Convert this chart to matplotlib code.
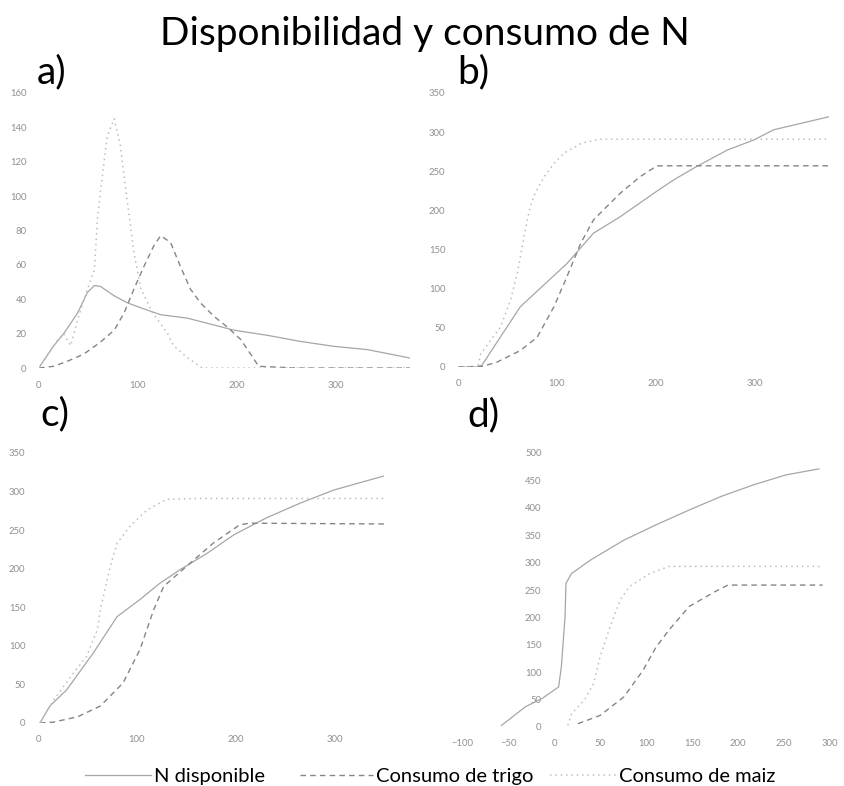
import matplotlib
matplotlib.use("Agg")
from matplotlib import pyplot as plt
from matplotlib.lines import Line2D

plt.rcParams['font.family'] = ['Lato', 'DejaVu Sans']

# ---- data ----
# a) daily rates
a_ndisp_x = [0, 2, 15, 25, 39, 49, 56, 62, 76, 89, 103, 123, 150, 177, 197, 231, 264, 298, 332, 375]
a_ndisp_y = [0, 2, 13, 20, 32, 44, 48, 47.5, 42, 38, 35, 31, 29, 25, 22, 19, 15.5, 12.6, 10.7, 5.8]
a_trigo_x = [0, 15, 29, 45, 62, 76, 86, 96, 106, 116, 123, 133, 143, 153, 163, 177, 190, 204, 214, 222, 260, 300, 375]
a_trigo_y = [0, 1, 4, 8, 15, 22, 32, 46, 59, 71, 77, 73, 59, 46, 38, 30, 24, 16.5, 8, 1, 0, 0, 0]
a_maiz_x = [0, 8, 19, 25, 32, 39, 49, 56, 59, 62, 69, 76, 82, 89, 96, 103, 115, 130, 136, 150, 165, 200, 375]
a_maiz_y = [0, 7, 16.5, 20, 13, 28, 46, 57, 86, 102, 135, 145, 130, 98, 67, 46, 32, 20, 13, 6, 0, 0, 0]

# b) cumulative
b_ndisp_x = [0, 20, 24, 63, 110, 137, 164, 198, 218, 241, 272, 299, 319, 376]
b_ndisp_y = [0, 0, 2, 77, 132, 171, 192, 222, 239, 256, 277, 290, 303, 320]
b_trigo_x = [0, 25, 39, 63, 80, 97, 110, 124, 137, 164, 184, 201, 375]
b_trigo_y = [0, 1, 6, 21, 38, 77, 115, 158, 188, 222, 243, 257, 257]
b_maiz_x = [0, 20, 23, 43, 53, 60, 68, 73, 78, 87, 97, 107, 125, 144, 375]
b_maiz_y = [0, 0, 17, 51, 85, 120, 175, 205, 222, 243, 260, 273, 286, 291, 291]

# c) cumulative
c_ndisp_x = [2, 12, 29, 56, 80, 103, 123, 144, 171, 198, 231, 265, 299, 349]
c_ndisp_y = [0, 22, 43, 91, 138, 160, 181, 199, 220, 244, 266, 285, 302, 320]
c_trigo_x = [2, 15, 40, 63, 86, 103, 117, 127, 150, 177, 204, 214, 350]
c_trigo_y = [0, 1, 8, 22, 52, 95, 147, 177, 203, 233, 257, 259, 258]
c_maiz_x = [2, 16, 33, 49, 60, 63, 73, 80, 93, 110, 130, 160, 350]
c_maiz_y = [0, 30, 60, 86, 121, 147, 203, 233, 255, 276, 290, 291, 291]

# d) cumulative, shifted time axis
d_ndisp_x = [-57, -31, -13, 5, 8, 12, 13, 19, 40, 76, 111, 147, 182, 217, 252, 288]
d_ndisp_y = [3, 37, 52, 73, 110, 201, 262, 280, 305, 341, 369, 396, 421, 442, 460, 471]
d_trigo_x = [26, 50, 76, 97, 111, 125, 147, 175, 189, 292]
d_trigo_y = [6, 21, 55, 104, 146, 177, 220, 247, 259, 259]
d_maiz_x = [15, 19, 33, 43, 50, 61, 72, 82, 104, 125, 292]
d_maiz_y = [3, 24, 49, 79, 128, 183, 232, 256, 280, 293, 293]

labels = ["N disponible", "Consumo de trigo", "Consumo de maiz"]
styles = [dict(color="#a6a6a6", lw=0.9, ls="-"),
          dict(color="#858585", lw=1.0, ls=(0, (4, 3))),
          dict(color="#bdbdbd", lw=1.1, ls=(0, (1, 2.5)))]

W, H = 844, 786
fig = plt.figure(figsize=(W / 100, H / 100), dpi=100)


def make_ax(x0, x1, ybot, ytop):
    return fig.add_axes([x0 / W, 1 - ybot / H, (x1 - x0) / W, (ybot - ytop) / H])


def style_ax(ax):
    for s in ax.spines.values():
        s.set_visible(False)
    ax.tick_params(length=0, labelsize=6.8, labelcolor="#8f8f8f", pad=9)


panels = [
    (make_ax(39, 410, 368, 93), (a_ndisp_x, a_ndisp_y), (a_trigo_x, a_trigo_y), (a_maiz_x, a_maiz_y),
     (0, 375), (0, 160), range(0, 161, 20), [0, 100, 200, 300]),
    (make_ax(458, 829, 367, 93), (b_ndisp_x, b_ndisp_y), (b_trigo_x, b_trigo_y), (b_maiz_x, b_maiz_y),
     (0, 375), (0, 350), range(0, 351, 50), [0, 100, 200, 300]),
    (make_ax(38, 409, 723, 453), (c_ndisp_x, c_ndisp_y), (c_trigo_x, c_trigo_y), (c_maiz_x, c_maiz_y),
     (0, 375), (0, 350), range(0, 351, 50), [0, 100, 200, 300]),
    (make_ax(462, 830, 727, 453), (d_ndisp_x, d_ndisp_y), (d_trigo_x, d_trigo_y), (d_maiz_x, d_maiz_y),
     (-100, 300), (0, 500), range(0, 501, 50), range(-100, 301, 50)),
]

for ax, nd, tr, mz, xl, yl, yt, xt in panels:
    for (xs, ys), st in zip([nd, tr, mz], styles):
        ax.plot(xs, ys, **st)
    ax.set_xlim(*xl)
    ax.set_ylim(*yl)
    ax.set_yticks(list(yt))
    ax.set_xticks(list(xt))
    style_ax(ax)

# d) has its y axis at x = 0
axd = panels[3][0]
axd.spines['left'].set_position(('data', 0))

fig.text(425 / W, 1 - 45 / H, "Disponibilidad y consumo de N", ha="center", va="baseline", fontsize=28)
for lab, x, y in [("a)", 37, 83), ("b)", 457, 83), ("c)", 40, 425), ("d)", 467, 426)]:
    fig.text(x / W, 1 - y / H, lab, ha="left", va="baseline", fontsize=28)

# legend: one entry per block, placed like the original
leg_pos = [(85, 3.3), (300, 3.6), (550, 3.3)]
for st, lab, (lx, hl) in zip(styles, labels, leg_pos):
    leg = fig.legend([Line2D([], [], **st)], [lab], loc="center left",
                     bbox_to_anchor=(lx / W, 1 - 776 / H), frameon=False, fontsize=14.5,
                     handlelength=hl, handletextpad=0.15, borderpad=0, borderaxespad=0)

fig.savefig("out.png", dpi=100)
